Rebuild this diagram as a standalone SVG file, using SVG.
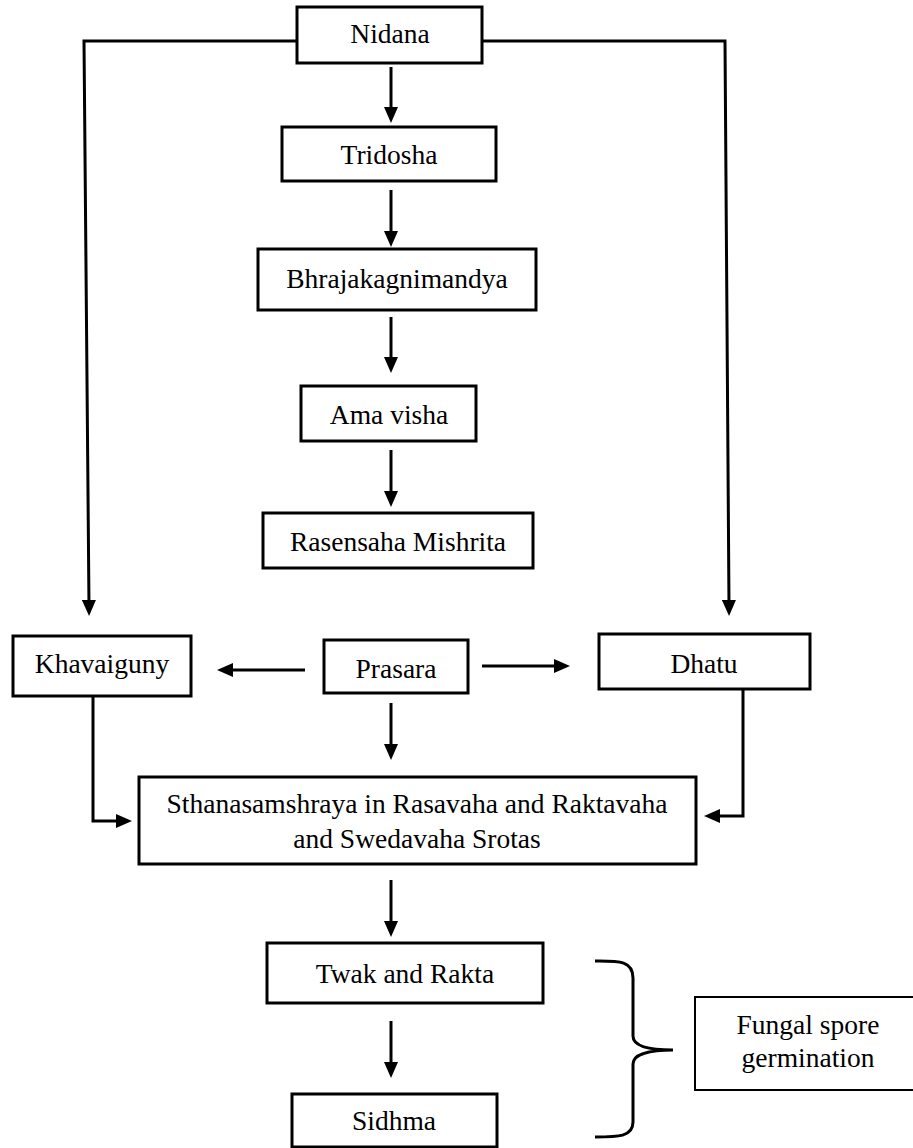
<svg xmlns="http://www.w3.org/2000/svg" width="913" height="1148" viewBox="0 0 913 1148">
<style>
.box{fill:#fff;stroke:#000;stroke-width:3}
.t{font-family:"Liberation Serif","Times New Roman",serif;font-size:27.5px;fill:#000;text-anchor:middle}
.ln{fill:none;stroke:#000;stroke-width:3}
.ar{fill:none;stroke:#000;stroke-width:3;marker-end:url(#ah)}
</style>
<defs>
<marker id="ah" viewBox="0 0 16 14" refX="6" refY="7" markerWidth="16" markerHeight="14" markerUnits="userSpaceOnUse" orient="auto">
<path d="M0,0 L16,7 L0,14 Z" fill="#000"/>
</marker>
</defs>
<rect width="913" height="1148" fill="#fff"/>
<g id="connectors">
<path class="ar" d="M297,41 L84,41 L89,606"/>
<path class="ar" d="M482,41 L725,41 L729,606"/>
<path class="ar" d="M391,67 L391,113"/>
<path class="ar" d="M391,190 L391,237"/>
<path class="ar" d="M391,317 L391,363"/>
<path class="ar" d="M391,450 L391,497"/>
<path class="ar" d="M305,670 L227,670"/>
<path class="ar" d="M482,666 L560,666"/>
<path class="ar" d="M391,703 L391,750"/>
<path class="ar" d="M93,696 L93,821 L122,821"/>
<path class="ar" d="M743,689 L743,816 L714,816"/>
<path class="ar" d="M391,880 L391,927"/>
<path class="ar" d="M391,1021 L391,1068"/>
<path class="ln" d="M595,961 C618,961 633,960 633,978 L633,1036 C633,1047 650,1050 673,1050 C650,1050 633,1054 633,1064 L633,1122 C633,1137 618,1137 595,1137"/>
</g>
<g id="nidana"><rect class="box" x="297" y="7" width="185" height="56"/><text class="t" x="390" y="43">Nidana</text></g>
<g id="tridosha"><rect class="box" x="282" y="127" width="214" height="54"/><text class="t" x="389" y="164">Tridosha</text></g>
<g id="bhrajakagnimandya"><rect class="box" x="258" y="249" width="278" height="61"/><text class="t" x="397" y="288">Bhrajakagnimandya</text></g>
<g id="amavisha"><rect class="box" x="301" y="386" width="175" height="55"/><text class="t" x="389" y="424">Ama visha</text></g>
<g id="rasensaha"><rect class="box" x="263" y="513" width="270" height="55"/><text class="t" x="398" y="551">Rasensaha Mishrita</text></g>
<g id="khavaiguny"><rect class="box" x="13" y="636" width="178" height="60"/><text class="t" x="102" y="673">Khavaiguny</text></g>
<g id="prasara"><rect class="box" x="324" y="640" width="144" height="53"/><text class="t" x="396" y="678">Prasara</text></g>
<g id="dhatu"><rect class="box" x="599" y="634" width="211" height="55"/><text class="t" x="704" y="673">Dhatu</text></g>
<g id="sthanasamshraya"><rect class="box" x="139" y="777" width="557" height="87"/><text class="t" x="417" y="813">Sthanasamshraya in Rasavaha and Raktavaha</text><text class="t" x="417" y="848">and Swedavaha Srotas</text></g>
<g id="twak"><rect class="box" x="267" y="943" width="276" height="60"/><text class="t" x="405" y="983">Twak and Rakta</text></g>
<g id="sidhma"><rect class="box" x="292" y="1094" width="205" height="53"/><text class="t" x="394" y="1130">Sidhma</text></g>
<g id="fungal"><rect class="box" x="695" y="997" width="230" height="93" style="stroke-width:2"/><text class="t" x="808" y="1034">Fungal spore</text><text class="t" x="808" y="1067">germination</text></g>
</svg>
